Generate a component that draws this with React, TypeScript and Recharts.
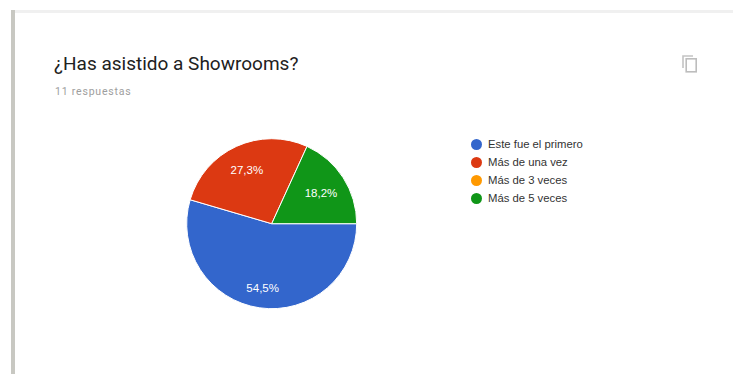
import { Legend, Pie, PieChart } from "recharts";

const answers = ["Este fue el primero", "Más de una vez", "Más de 3 veces", "Más de 5 veces"];
const counts = [6, 3, 0, 2];
const colors = ["#3366cc", "#dc3912", "#ff9900", "#109618"];

const chartData = answers.map((name, i) => ({ name, value: counts[i], fill: colors[i] }));

const RAD = Math.PI / 180;

// percent text inside each slice, decimal comma like the es locale
function renderSliceLabel(props: any) {
  const { cx, cy, midAngle, outerRadius, percent } = props;
  if (!percent) return null;
  // bigger slices push the label a bit further out
  const r = outerRadius * (0.66 + 0.16 * percent);
  const x = cx + r * Math.cos(-midAngle * RAD);
  const y = cy + r * Math.sin(-midAngle * RAD);
  return (
    <text
      x={x}
      y={y + 1}
      fill="#ffffff"
      textAnchor="middle"
      dominantBaseline="central"
      fontFamily="'Liberation Sans', Arial, sans-serif"
      fontSize={11.5}
    >
      {(percent * 100).toFixed(1).replace(".", ",") + "%"}
    </text>
  );
}

function renderLegend(props: any) {
  const { payload } = props;
  return (
    <div>
      {(payload ?? []).map((item: any) => (
        <div key={item.value} style={{ display: "flex", alignItems: "center", height: 18 }}>
          <span
            style={{
              width: 11,
              height: 11,
              borderRadius: "50%",
              background: item.color,
              marginRight: 6,
              flex: "none",
            }}
          />
          <span style={{ fontFamily: "'Liberation Sans', Arial, sans-serif", fontSize: 11.3, color: "#333333", whiteSpace: "nowrap" }}>
            {item.value}
          </span>
        </div>
      ))}
    </div>
  );
}

function CopyIcon() {
  return (
    <svg width={16} height={18} viewBox="0 0 16 18" style={{ position: "absolute", left: 682, top: 55 }}>
      <path d="M1 13V1h10" fill="none" stroke="#c4c4c4" strokeWidth={1.6} />
      <rect x={4.2} y={3.8} width={10} height={13} fill="#ffffff" stroke="#bdbdbd" strokeWidth={1.6} />
    </svg>
  );
}

export default function App() {
  return (
    <div
      style={{
        position: "absolute",
        left: 0,
        top: 0,
        width: 733,
        height: 374,
        overflow: "hidden",
        background: "#ffffff",
      }}
    >
      {/* card edges */}
      <div style={{ position: "absolute", left: 11, top: 10, width: 722, height: 3, background: "#f0f0f0" }} />
      <div style={{ position: "absolute", left: 11, top: 10, width: 4, height: 364, background: "#c8c8c2" }} />

      <div
        style={{
          position: "absolute",
          left: 54,
          top: 52,
          fontFamily: "Roboto, Arial, sans-serif",
          fontSize: 19,
          lineHeight: "24px",
          color: "#212121",
          whiteSpace: "nowrap",
        }}
      >
        ¿Has asistido a Showrooms?
      </div>
      <div
        style={{
          position: "absolute",
          left: 55,
          top: 85,
          fontFamily: "Roboto, Arial, sans-serif",
          fontSize: 10.5,
          lineHeight: "14px",
          letterSpacing: 0.8,
          color: "#9e9e9e",
          whiteSpace: "nowrap",
        }}
      >
        11 respuestas
      </div>
      <CopyIcon />

      <div style={{ position: "absolute", left: 0, top: 0 }}>
        <PieChart width={733} height={374} margin={{ top: 0, right: 0, bottom: 0, left: 0 }}>
          <Pie
            data={chartData}
            dataKey="value"
            nameKey="name"
            cx={271.7}
            cy={223.7}
            outerRadius={85}
            startAngle={0}
            endAngle={-360}
            stroke="#ffffff"
            strokeWidth={1}
            label={renderSliceLabel}
            labelLine={false}
            isAnimationActive={false}
          />
          <Legend
            layout="vertical"
            content={renderLegend}
            itemSorter={null}
            wrapperStyle={{ position: "absolute", left: 471, top: 135, width: 150 }}
          />
        </PieChart>
      </div>
    </div>
  );
}
